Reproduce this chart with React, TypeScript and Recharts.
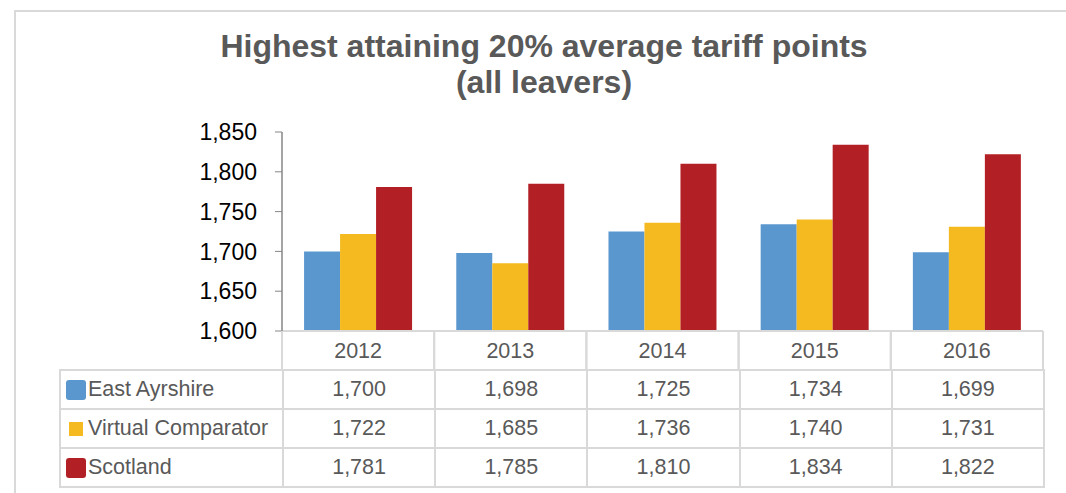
import { Bar, BarChart, XAxis, YAxis } from "recharts";

const YEARS = ["2012", "2013", "2014", "2015", "2016"];
const EAST_AYRSHIRE = [1700, 1698, 1725, 1734, 1699];
const VIRTUAL_COMPARATOR = [1722, 1685, 1736, 1740, 1731];
const SCOTLAND = [1781, 1785, 1810, 1834, 1822];
const Y_TICKS = [1600, 1650, 1700, 1750, 1800, 1850];

const BLUE = "#5b97cf";
const GOLD = "#f5ba1f";
const RED = "#b21f24";
const GRID = "#d9d9d9";
const TEXT = "#595959";
const FONT = "'Liberation Sans', Arial, sans-serif";

const SERIES = [
  { key: "eastAyrshire", name: "East Ayrshire", values: EAST_AYRSHIRE, color: BLUE, swatch: 20 },
  { key: "virtualComparator", name: "Virtual Comparator", values: VIRTUAL_COMPARATOR, color: GOLD, swatch: 14 },
  { key: "scotland", name: "Scotland", values: SCOTLAND, color: RED, swatch: 20 },
];

const data = YEARS.map((year, i) => ({
  year,
  eastAyrshire: EAST_AYRSHIRE[i],
  virtualComparator: VIRTUAL_COMPARATOR[i],
  scotland: SCOTLAND[i],
}));

const fmt = (v: number) => v.toLocaleString("en-US");

// year label plus the header cell borders of the data table
function YearTick(props: any) {
  const { x, y, payload } = props;
  const half = payload.offset || 0;
  return (
    <g>
      <line x1={x - half} y1={y} x2={x - half} y2={y + 39} stroke={GRID} strokeWidth={2} />
      <line x1={x + half} y1={y} x2={x + half} y2={y + 39} stroke={GRID} strokeWidth={2} />
      <text x={x} y={y + 27} textAnchor="middle" fill={TEXT} fontSize={21.5} fontFamily={FONT}>
        {payload.value}
      </text>
    </g>
  );
}

const PLOT_LEFT = 282;
const PLOT_RIGHT = 1043;
const COL_W = (PLOT_RIGHT - PLOT_LEFT) / YEARS.length;

export default function App() {
  return (
    <div
      style={{
        position: "absolute",
        left: 0,
        top: 0,
        width: 1066,
        height: 493,
        background: "#fff",
        overflow: "hidden",
        fontFamily: FONT,
      }}
    >
      {/* outer frame */}
      <div
        style={{
          position: "absolute",
          left: 14,
          top: 10,
          width: 1100,
          height: 600,
          borderLeft: `2px solid ${GRID}`,
          borderTop: `2px solid ${GRID}`,
        }}
      />
      <div
        style={{
          position: "absolute",
          left: 0,
          top: 28,
          width: 1088,
          textAlign: "center",
          fontSize: 32,
          lineHeight: "36px",
          fontWeight: 700,
          color: TEXT,
        }}
      >
        Highest attaining 20% average tariff points
        <br />
        (all leavers)
      </div>
      <div style={{ position: "absolute", left: 0, top: 0 }}>
        <BarChart
          width={1066}
          height={493}
          data={data}
          margin={{ top: 132, right: 1066 - PLOT_RIGHT, bottom: 493 - 331 - 39, left: 200 }}
          barGap={0}
          barCategoryGap="14.5%"
        >
          <XAxis
            dataKey="year"
            height={39}
            tickSize={0}
            tickMargin={0}
            tickLine={false}
            axisLine={{ stroke: GRID, strokeWidth: 2 }}
            tick={<YearTick />}
            interval={0}
          />
          <YAxis
            width={82}
            domain={[1600, 1850]}
            ticks={Y_TICKS}
            tickFormatter={fmt}
            tickSize={7}
            tickMargin={18}
            axisLine={{ stroke: "#868686", strokeWidth: 1.5 }}
            tickLine={{ stroke: "#868686" }}
            tick={{ fill: "#000", fontSize: 23, fontFamily: FONT }}
          />
          {SERIES.map((s) => (
            <Bar
              key={s.key}
              dataKey={s.key}
              name={s.name}
              fill={s.color}
              isAnimationActive={false}
            />
          ))}
        </BarChart>
      </div>
      <table
        style={{
          position: "absolute",
          left: 59,
          top: 369,
          width: PLOT_RIGHT - 59 + 1,
          borderCollapse: "collapse",
          tableLayout: "fixed",
          fontSize: 21.5,
          color: TEXT,
        }}
      >
        <colgroup>
          <col style={{ width: PLOT_LEFT - 59 }} />
          {YEARS.map((y) => (
            <col key={y} style={{ width: COL_W }} />
          ))}
        </colgroup>
        <tbody>
          {SERIES.map((s) => (
            <tr key={s.key} style={{ height: 39 }}>
              <td
                style={{
                  border: `2px solid ${GRID}`,
                  padding: 0,
                  whiteSpace: "nowrap",
                }}
              >
                <span style={{ display: "inline-flex", alignItems: "center", width: 22, justifyContent: "center", marginLeft: 4, verticalAlign: "middle" }}>
                  <span
                    style={{
                      display: "inline-block",
                      width: s.swatch,
                      height: s.swatch,
                      background: s.color,
                      borderRadius: s.swatch > 15 ? 3 : 0,
                    }}
                  />
                </span>
                <span style={{ verticalAlign: "middle", marginLeft: 1 }}>{s.name}</span>
              </td>
              {s.values.map((v, i) => (
                <td
                  key={i}
                  style={{ border: `2px solid ${GRID}`, padding: 0, textAlign: "center" }}
                >
                  {fmt(v)}
                </td>
              ))}
            </tr>
          ))}
        </tbody>
      </table>
    </div>
  );
}
